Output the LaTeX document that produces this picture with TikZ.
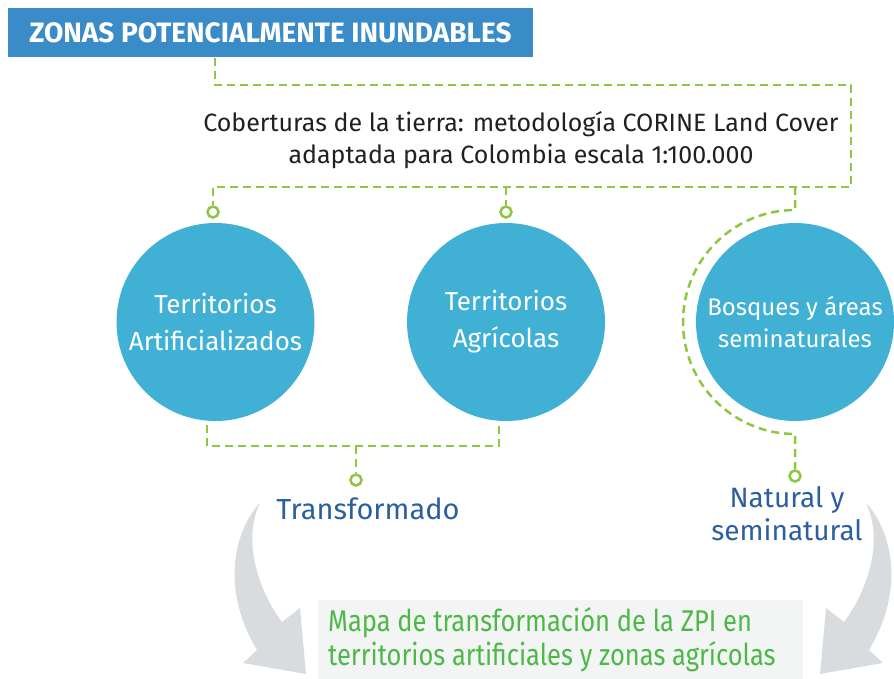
\documentclass[tikz,border=0pt]{standalone}
\usepackage{fontspec}
\setmainfont{Fira Sans}
\newfontfamily\narrowfont[FakeStretch=0.85]{Fira Sans}
\definecolor{titleblue}{HTML}{3A8CC8}
\definecolor{circblue}{HTML}{40B0D5}
\definecolor{dashgreen}{HTML}{8DC63F}
\definecolor{darkblue}{HTML}{2B5F9E}
\definecolor{textgreen}{HTML}{4DB848}
\definecolor{arrowgray}{HTML}{D9DCDF}
\definecolor{boxgray}{HTML}{F3F5F5}
\definecolor{textdark}{HTML}{231F20}
\tikzset{
  gdash/.style={draw=dashgreen, line width=2.5pt, dash pattern=on 8pt off 5pt},
  marker/.style={circle, draw=dashgreen, line width=2.5pt, fill=white, minimum size=11pt, inner sep=0pt},
  circ/.style={circle, fill=circblue, minimum size=198pt, inner sep=0pt, text=white, align=center, font=\fontsize{26}{37}\selectfont},
  titlebox/.style={fill=titleblue, text=white, minimum width=525pt, minimum height=49pt, inner sep=0pt, font=\bfseries\fontsize{28}{30}\selectfont},
  darktext/.style={text=textdark, align=center, font=\fontsize{25}{32}\selectfont},
  bluelabel/.style={text=darkblue, align=center, font=\fontsize{28}{33}\selectfont},
  mapabox/.style={fill=boxgray, anchor=north west, minimum width=485pt, minimum height=80pt, inner sep=0pt},
  mapatext/.style={anchor=west, inner sep=0pt, align=left, text=textgreen, font=\narrowfont\fontsize{30}{34}\selectfont},
  bigarrow/.style={fill=arrowgray}
}
\begin{document}
\begin{tikzpicture}[x=1pt,y=-1pt]
\useasboundingbox (0,0) rectangle (894,678);
\clip (0,0) rectangle (894,678);
% gray curved arrows
\fill[bigarrow] (260,503) .. controls (237,527) and (218,585) .. (257,650) -- (243,663) -- (306,674) -- (300,608) -- (282,622) .. controls (258,590) and (242,540) .. (260,503) -- cycle;
\begin{scope}[xshift=1126pt, xscale=-1]
\fill[bigarrow] (260,503) .. controls (237,527) and (218,585) .. (257,650) -- (243,663) -- (306,674) -- (300,608) -- (282,622) .. controls (258,590) and (242,540) .. (260,503) -- cycle;
\end{scope}
% title
\node[titlebox] (title) at (270.5,32.5) {ZONAS POTENCIALMENTE INUNDABLES};
% text
\node[darktext] (cob) at (521,140) {Coberturas de la tierra: metodología CORINE Land Cover\\adaptada para Colombia escala 1:100.000};
% circles
\node[circ] (c1) at (215.5,322) {Territorios\\Artificializados};
\node[circ] (c2) at (506,322) {Territorios\\Agrícolas};
\node[circ, font=\fontsize{24}{32}\selectfont] (c3) at (795,322) {Bosques y áreas\\seminaturales};
% markers
\node[marker] (m1) at (213,212) {};
\node[marker] (m2) at (506,212) {};
\node[marker] (m3) at (356,480) {};
\node[marker] (m4) at (795,476) {};
% connectors
\coordinate (t0) at (215,58);
\coordinate (tr) at (851,85);
\coordinate (bl) at (213,187);
\draw[gdash] (t0) |- (tr) |- (bl) -- (m1.north);
\draw[gdash] (506,187) -- (m2.north);
\draw[gdash] (795,187) -- (795,210) arc[start angle=270, end angle=90, radius=112] -- (m4.north);
\draw[gdash] (207,425) |- (499,446) -- (499,425);
\draw[gdash] (356,446) -- (m3.north);
% labels
\node[bluelabel, font=\fontsize{29}{33}\selectfont] (trans) at (368,509) {Transformado};
\node[bluelabel] (nat) at (787,514) {Natural y\\seminatural};
% map box
\node[mapabox] (mapa) at (318,600) {};
\node[mapatext] (mapatxt) at (328,640) {Mapa de transformación de la ZPI en\\territorios artificiales y zonas agrícolas};
\end{tikzpicture}
\end{document}
